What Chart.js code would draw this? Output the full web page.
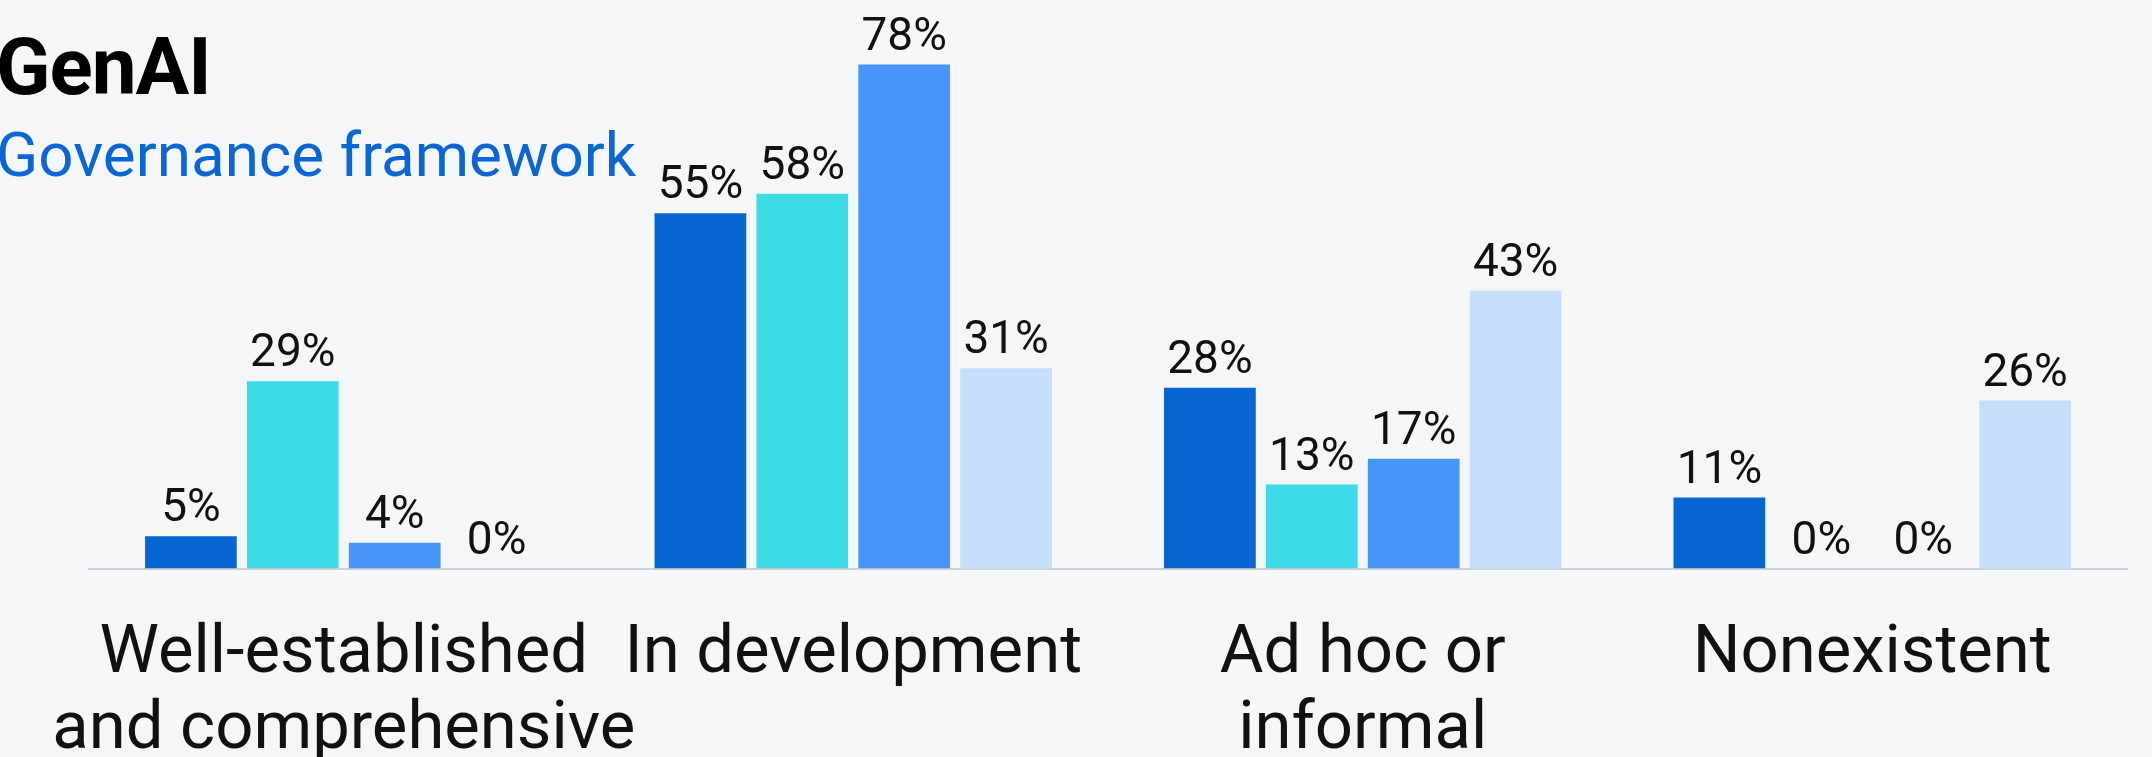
<!DOCTYPE html>
<html>
<head>
<meta charset="utf-8">
<script src="https://cdn.jsdelivr.net/npm/chart.js@4"></script>
<style>
  html, body { margin: 0; padding: 0; background: #f5f6f8; }
  #wrap { position: relative; width: 2152px; height: 757px; overflow: hidden; }
  #box { position: absolute; left: 0; top: 0; width: 2152px; height: 818px; }
  #title { position: absolute; left: -4px; top: 27px; font: 700 80px Roboto, sans-serif; line-height: 1; color: #000; letter-spacing: -1px; }
  #subtitle { position: absolute; left: -4px; top: 124px; font: 400 62px Roboto, sans-serif; line-height: 1; color: #0a66d2; }
</style>
</head>
<body>
<div id="wrap">
  <div id="box"><canvas id="chart"></canvas></div>
  <div id="title">GenAI</div>
  <div id="subtitle">Governance framework</div>
</div>
<script>
const categories = [['Well-established', 'and comprehensive'], 'In development', ['Ad hoc or', 'informal'], 'Nonexistent']

// one array per coloured bar in each group, left to right
const series1 = [5, 55, 28, 11]
const series2 = [29, 58, 13, 0]
const series3 = [4, 78, 17, 0]
const series4 = [0, 31, 43, 26]

const colors = ['#0866d3', '#3ddbe6', '#4696fa', '#c6dffb']

// draws "NN%" above every bar
const valueLabels = {
  id: 'valueLabels',
  afterDatasetsDraw(chart) {
    const ctx = chart.ctx
    ctx.save()
    ctx.font = '46px Roboto, sans-serif'
    ctx.fillStyle = '#111'
    ctx.textAlign = 'center'
    ctx.textBaseline = 'alphabetic'
    chart.data.datasets.forEach((ds, i) => {
      chart.getDatasetMeta(i).data.forEach((bar, j) => {
        ctx.fillText(ds.data[j] + '%', bar.x, bar.y - 15)
      })
    })
    ctx.restore()
  }
}

new Chart(document.getElementById('chart'), {
  type: 'bar',
  data: {
    labels: categories,
    datasets: [series1, series2, series3, series4].map((d, i) => ({
      label: 'Series ' + (i + 1),
      data: d,
      backgroundColor: colors[i],
      borderWidth: 0,
      categoryPercentage: 0.8,
      barPercentage: 0.9
    }))
  },
  options: {
    responsive: true, maintainAspectRatio: false,
    animation: false,
    layout: { padding: { left: 89, right: 25, top: 0, bottom: 0 } },
    plugins: { legend: { display: false }, tooltip: { enabled: false } },
    scales: {
      x: {
        grid: { display: false, drawTicks: false },
        border: { display: true, color: '#cdd1d6', width: 2 },
        ticks: { color: '#111', padding: 49, maxRotation: 0, autoSkip: false,
                 font: { family: 'Roboto', size: 67, lineHeight: 1.13 } },
        // the long first label may hang past the plot edge, as in the original
        afterFit(s) { s.paddingLeft = 0; s.paddingRight = 0 }
      },
      y: { display: false, min: 0, max: 88 }
    }
  },
  plugins: [valueLabels]
})
</script>
</body>
</html>
